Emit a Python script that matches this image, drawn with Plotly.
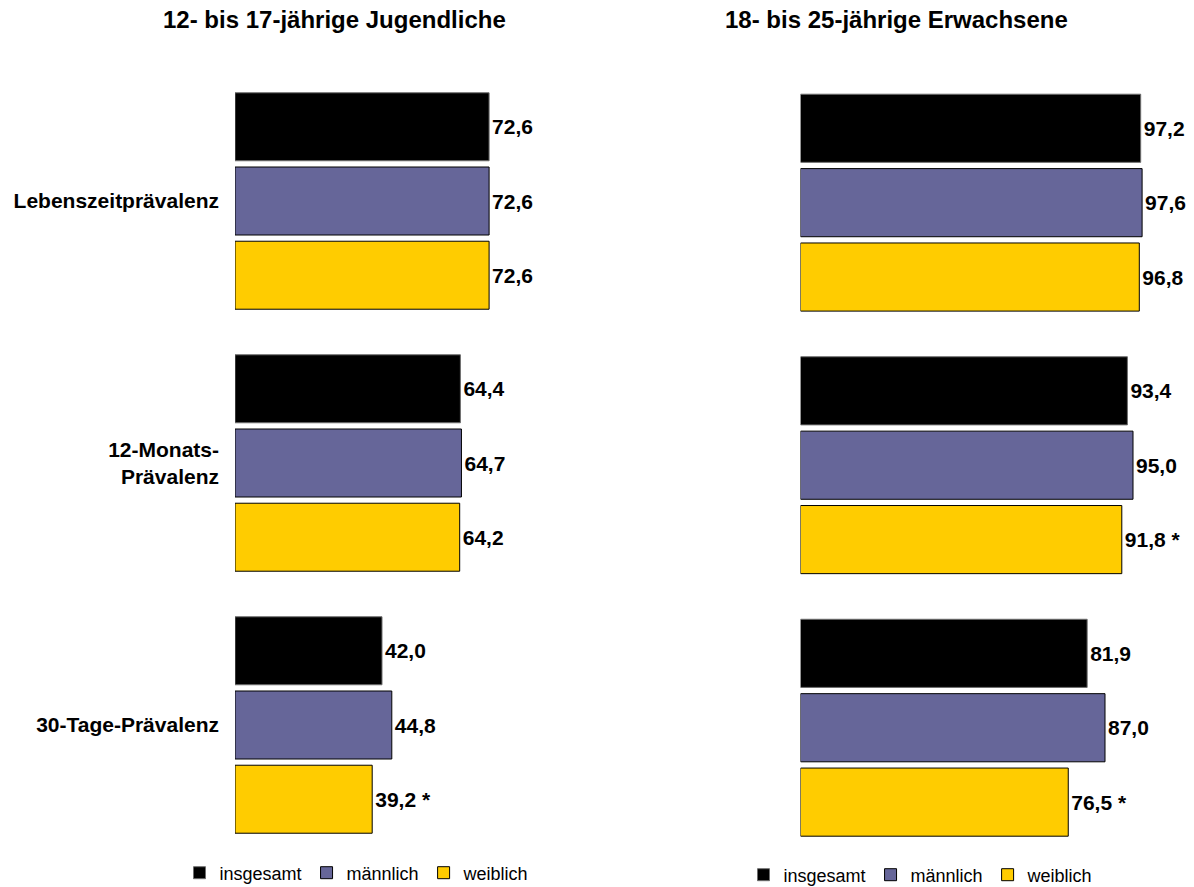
import plotly.graph_objects as go

# ---- data ----
categories = ["Lebenszeitprävalenz", "12-Monats-<br>Prävalenz", "30-Tage-Prävalenz"]
series_names = ["insgesamt", "männlich", "weiblich"]

jugend_insgesamt = [72.6, 64.4, 42.0]
jugend_maennlich = [72.6, 64.7, 44.8]
jugend_weiblich = [72.6, 64.2, 39.2]
jugend_weiblich_sig = ["", "", "*"]

erw_insgesamt = [97.2, 93.4, 81.9]
erw_maennlich = [97.6, 95.0, 87.0]
erw_weiblich = [96.8, 91.8, 76.5]
erw_weiblich_sig = ["", "*", "*"]

panel_titles = ["12- bis 17-jährige Jugendliche", "18- bis 25-jährige Erwachsene"]

colors = ["#000000", "#666699", "#FFCC00"]
line_colors = ["#6e6e6e", "#000000", "#000000"]

FONT = "Liberation Sans, Arial, sans-serif"


def fmt(vals, sig=None):
    out = []
    for i, v in enumerate(vals):
        s = f"{v:.1f}".replace(".", ",")
        if sig and sig[i]:
            s += " " + sig[i]
        out.append(s)
    return out


W, H = 1194, 887


def px(x):
    return x / W


def py(y):
    return 1 - y / H


fig = go.Figure()

panels = [
    ([jugend_insgesamt, jugend_maennlich, jugend_weiblich], [None, None, jugend_weiblich_sig], "x", "y", "legend"),
    ([erw_insgesamt, erw_maennlich, erw_weiblich], [None, None, erw_weiblich_sig], "x2", "y2", "legend2"),
]

for vals_list, sig_list, xa, ya, lg in panels:
    for i, (name, vals, sig) in enumerate(zip(series_names, vals_list, sig_list)):
        fig.add_trace(go.Bar(
            y=categories, x=vals, orientation="h", name=name,
            marker=dict(color=colors[i], line=dict(color=line_colors[i], width=1)),
            text=fmt(vals, sig), textposition="outside", constraintext="none",
            textfont=dict(family=FONT, size=21, color="#000000", weight="bold"),
            cliponaxis=False, xaxis=xa, yaxis=ya, legend=lg,
            hoverinfo="skip",
        ))

axis_common = dict(showgrid=False, zeroline=False, showline=False, fixedrange=True)

fig.update_layout(
    width=W, height=H,
    margin=dict(l=0, r=0, t=0, b=0, autoexpand=False),
    paper_bgcolor="white", plot_bgcolor="white",
    barmode="group", bargap=0.15, bargroupgap=0.084,
    font=dict(family=FONT, color="#000000"),
    xaxis=dict(domain=[px(235), px(585)], range=[0, 100], showticklabels=False, anchor="y", **axis_common),
    yaxis=dict(domain=[py(856), py(70)], autorange="reversed", anchor="x",
               ticks="", ticklabelstandoff=15,
               tickfont=dict(family=FONT, size=21, color="#000000", weight="bold"), **axis_common),
    xaxis2=dict(domain=[px(800.5), px(1150.5)], range=[0, 100], showticklabels=False, anchor="y2", **axis_common),
    yaxis2=dict(domain=[py(859), py(71.4)], autorange="reversed", anchor="x2",
                showticklabels=False, ticks="", **axis_common),
    legend=dict(orientation="h", x=px(357), xanchor="center", y=py(873), yanchor="middle",
                font=dict(family=FONT, size=18, color="#000000"), bgcolor="rgba(0,0,0,0)"),
    legend2=dict(orientation="h", x=px(921), xanchor="center", y=py(875), yanchor="middle",
                 font=dict(family=FONT, size=18, color="#000000"), bgcolor="rgba(0,0,0,0)"),
    annotations=[
        dict(text=panel_titles[0], x=px(335), y=py(20), xref="paper", yref="paper",
             showarrow=False, xanchor="center", yanchor="middle",
             font=dict(family=FONT, size=24, color="#000000", weight="bold")),
        dict(text=panel_titles[1], x=px(896), y=py(20), xref="paper", yref="paper",
             showarrow=False, xanchor="center", yanchor="middle",
             font=dict(family=FONT, size=24, color="#000000", weight="bold")),
    ],
)

fig.write_html("out.html", config={"displayModeBar": False},
               post_script="document.body.style.margin='0';")
